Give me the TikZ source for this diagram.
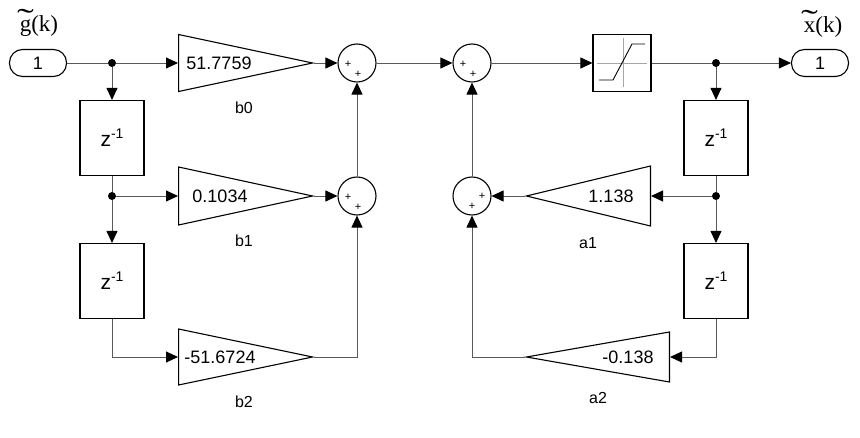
\documentclass[tikz,border=0pt]{standalone}
\usepackage{fontspec}
\usepackage{graphicx}
\setmainfont{Liberation Sans}
\newfontfamily\timesfont{Liberation Serif}
\usetikzlibrary{arrows.meta,shapes.geometric}

\tikzset{
  wire/.style = {draw=black!65, line width=0.9pt},
  flow/.style = {wire, -{Triangle[length=12pt,width=11pt,black]}},
  delayblk/.style = {draw, line width=1.1pt, minimum width=64pt, minimum height=75pt, inner sep=0pt, font=\fontsize{21}{21}\selectfont},
  gain/.style = {draw, line width=1.1pt, isosceles triangle, isosceles triangle stretches, inner sep=0pt},
  sumblk/.style = {draw, circle, line width=1.1pt, minimum size=38pt, inner sep=0pt},
  port/.style = {draw, line width=1.1pt, rounded corners=13pt, minimum width=57pt, minimum height=27pt, font=\fontsize{18}{18}\selectfont},
  junc/.style = {circle, fill=black, minimum size=8pt, inner sep=0pt},
  gtxt/.style = {font=\fontsize{18}{18}\selectfont, inner sep=0pt},
  tag/.style = {font=\fontsize{16}{16}\selectfont},
  sgn/.style = {font=\fontsize{11}{11}\selectfont, inner sep=0pt},
  sig/.style = {font=\timesfont\fontsize{23}{23}\selectfont, inner sep=1pt}
}
\newcommand{\zinv}{z\raisebox{8pt}{\fontsize{14}{14}\selectfont -1}}
\newcommand{\widetil}[1]{\ooalign{#1\cr\hidewidth\raisebox{2pt}{\scalebox{2.2}[1.3]{\char"02DC}}\hidewidth\cr}}

\begin{document}
\begin{tikzpicture}[x=1pt, y=-1pt]
  \useasboundingbox (0,0) rectangle (860,438);

  % ports
  \node[port] (in) at (38,63) {1};
  \node[sig] (gk) at (39,26) {\widetil{g}(k)};
  \node[port] (out) at (820,63) {1};
  \node[sig] (xk) at (823,27) {\widetil{x}(k)};

  % feed-forward side
  \node[junc] (j1) at (112,63) {};
  \node[delayblk] (d1) at (112,138) {\zinv};
  \node[junc] (j2) at (112,196) {};
  \node[delayblk] (d2) at (112,281) {\zinv};

  \node[gain, minimum height=134pt, minimum width=57pt, anchor=lower side] (b0) at (178,63) {};
  \node[gain, minimum height=134pt, minimum width=58pt, anchor=lower side] (b1) at (178,196) {};
  \node[gain, minimum height=134pt, minimum width=56pt, anchor=lower side] (b2) at (178,357) {};
  \node[gtxt] (b0val) at (219,63) {51.7759};
  \node[gtxt] (b1val) at (220,196) {0.1034};
  \node[gtxt] (b2val) at (220,357) {-51.6724};
  \node[tag] (b0tag) at (244,108) {b0};
  \node[tag] (b1tag) at (244,241) {b1};
  \node[tag] (b2tag) at (244,402) {b2};

  \node[sumblk] (s1) at (357,63) {};
  \node[sumblk] (s2) at (357,196) {};
  \node[sumblk] (s3) at (472,63) {};
  \node[sumblk] (s4) at (472,196) {};
  \node[sgn] (s1a) at (348,64) {+};
  \node[sgn] (s1b) at (358,74) {+};
  \node[sgn] (s2a) at (348,197) {+};
  \node[sgn] (s2b) at (358,207) {+};
  \node[sgn] (s3a) at (463,64) {+};
  \node[sgn] (s3b) at (473,74) {+};
  \node[sgn] (s4a) at (482,196) {+};
  \node[sgn] (s4b) at (472,206) {+};

  % saturation
  \node[draw, line width=1.1pt, minimum width=58pt, minimum height=57pt] (sat) at (622,63) {};
  \begin{scope}[shift={(sat.center)}]
    \draw[black!35, line width=0.6pt] (-25,0) -- (25,0) (1,-25) -- (1,24);
    \draw[line width=0.9pt] (-23,17) -- (-9,17) -- (10,-19) -- (23,-19);
  \end{scope}

  % feedback side
  \node[junc] (j3) at (716,63) {};
  \node[delayblk] (d3) at (716,138) {\zinv};
  \node[junc] (j4) at (716,196) {};
  \node[delayblk] (d4) at (716,281) {\zinv};

  \node[gain, shape border rotate=180, minimum height=124pt, minimum width=60pt, anchor=lower side] (a1) at (651,196) {};
  \node[gain, shape border rotate=180, minimum height=143pt, minimum width=50pt, anchor=lower side] (a2) at (670,357) {};
  \node[gtxt] (a1val) at (611,196) {1.138};
  \node[gtxt] (a2val) at (628,357) {-0.138};
  \node[tag] (a1tag) at (588,243) {a1};
  \node[tag] (a2tag) at (598,398) {a2};

  % connectors
  \draw[wire] (in) -- (j1);
  \draw[flow] (j1) -- (b0.lower side);
  \draw[flow] (j1) -- (d1.north);
  \draw[wire] (d1.south) -- (j2);
  \draw[flow] (j2) -- (b1.lower side);
  \draw[flow] (j2) -- (d2.north);
  \draw[flow] (d2.south) |- (b2.lower side);
  \draw[flow] (b0.apex) -- (s1.west);
  \draw[flow] (b1.apex) -- (s2.west);
  \draw[flow] (b2.apex) -| (s2.south);
  \draw[flow] (s2.north) -- (s1.south);
  \draw[flow] (s1.east) -- (s3.west);
  \draw[flow] (s3.east) -- (sat.west);
  \draw[wire] (sat.east) -- (j3);
  \draw[flow] (j3) -- (out.west);
  \draw[flow] (j3) -- (d3.north);
  \draw[wire] (d3.south) -- (j4);
  \draw[flow] (j4) -- (a1.lower side);
  \draw[flow] (j4) -- (d4.north);
  \draw[flow] (a1.apex) -- (s4.east);
  \draw[flow] (d4.south) |- (a2.lower side);
  \draw[flow] (a2.apex) -| (s4.south);
  \draw[flow] (s4.north) -- (s3.south);
\end{tikzpicture}
\end{document}
